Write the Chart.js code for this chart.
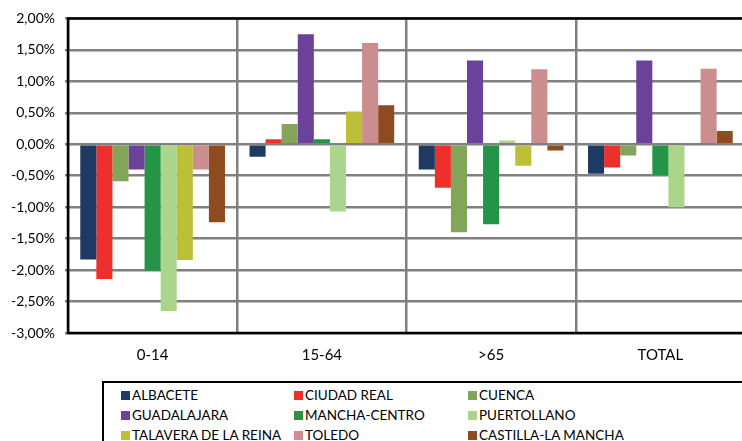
<!DOCTYPE html>
<html>
<head>
<meta charset="utf-8">
<script src="https://cdn.jsdelivr.net/npm/chart.js@4"></script>
<style>
  html, body { margin:0; padding:0; background:#fff; overflow:hidden; width:742px; height:441px; }
  #wrap { position:absolute; left:0; top:0; width:760px; height:375px; }
  #legend { position:absolute; left:102px; top:381px; width:700px; height:80px; border:2px solid #000; box-sizing:border-box;
            font-family: Lato, "Noto Sans", sans-serif; font-size:13.5px; color:#000; }
  .item { position:absolute; height:20px; line-height:20px; white-space:nowrap; }
  .sw { position:absolute; left:0; top:6px; width:9px; height:9px; }
  .lbl { position:absolute; left:11px; top:0; }
</style>
</head>
<body>
<div id="wrap"><canvas id="c" width="760" height="375"></canvas></div>
<div id="legend"></div>
<script>
const categories = ["0-14", "15-64", ">65", "TOTAL"];
const seriesNames = ["ALBACETE", "CIUDAD REAL", "CUENCA", "GUADALAJARA", "MANCHA-CENTRO", "PUERTOLLANO", "TALAVERA DE LA REINA", "TOLEDO", "CASTILLA-LA MANCHA"];
const seriesColors = ["#1E3A62", "#EE302C", "#83A55A", "#6C4199", "#249446", "#ABD58B", "#BDBF37", "#CC8D8E", "#8E4B20"];
const albacete    = [-1.83, -0.20, -0.40, -0.47];
const ciudadReal  = [-2.14,  0.08, -0.69, -0.37];
const cuenca      = [-0.59,  0.32, -1.40, -0.18];
const guadalajara = [-0.40,  1.75,  1.33,  1.33];
const manchaCentro= [-2.01,  0.08, -1.27, -0.49];
const puertollano = [-2.65, -1.07,  0.06, -1.00];
const talavera    = [-1.84,  0.52, -0.34,  0.00];
const toledo      = [-0.40,  1.61,  1.19,  1.20];
const castilla    = [-1.24,  0.62, -0.10,  0.21];
const seriesValues = [albacete, ciudadReal, cuenca, guadalajara, manchaCentro, puertollano, talavera, toledo, castilla];
const yMin = -3, yMax = 2, yStep = 0.5;

const FONT = 'Lato, "Noto Sans", sans-serif';

const frame = {
  id: 'frame',
  afterDraw(chart) {
    const {ctx, chartArea:a} = chart;
    ctx.save();
    ctx.strokeStyle = '#000';
    ctx.lineWidth = 2.5;
    ctx.beginPath();
    ctx.moveTo(a.right + 5, a.top);
    ctx.lineTo(a.left, a.top);
    ctx.lineTo(a.left, a.bottom);
    ctx.lineTo(a.right + 5, a.bottom);
    ctx.stroke();
    ctx.restore();
  }
};

new Chart(document.getElementById('c'), {
  type: 'bar',
  data: {
    labels: categories,
    datasets: seriesNames.map((n, i) => ({
      label: n,
      data: seriesValues[i],
      backgroundColor: seriesColors[i],
      borderWidth: 0,
      barPercentage: 1.0,
      categoryPercentage: 0.855
    }))
  },
  options: {
    responsive: false,
    animation: false,
    layout: { padding: { top: 18, right: 15, left: 0, bottom: 0 } },
    plugins: { legend: { display: false }, tooltip: { enabled: false } },
    scales: {
      x: {
        grid: { color: '#808080', lineWidth: 2.5, drawTicks: false, offset: true },
        border: { display: false },
        ticks: { color: '#000', font: { family: FONT, size: 15 }, padding: 13 },
        afterFit(s) { s.height = 42; }
      },
      y: {
        min: yMin, max: yMax,
        grid: { color: '#808080', lineWidth: 2.5, tickLength: 3 },
        border: { display: false },
        ticks: {
          stepSize: yStep,
          color: '#000',
          font: { family: FONT, size: 14 },
          padding: 10,
          callback: v => v.toFixed(2).replace('.', ',') + '%'
        },
        afterFit(s) { s.width = 68; }
      }
    }
  },
  plugins: [frame]
});

const leg = document.getElementById('legend');
const colX = [17, 190, 364];
seriesNames.forEach((n, i) => {
  const d = document.createElement('div');
  d.className = 'item';
  d.style.left = colX[i % 3] + 'px';
  d.style.top = (2 + Math.floor(i / 3) * 20) + 'px';
  d.innerHTML = '<span class="sw" style="background:' + seriesColors[i] + '"></span><span class="lbl">' + n + '</span>';
  leg.appendChild(d);
});
</script>
</body>
</html>
